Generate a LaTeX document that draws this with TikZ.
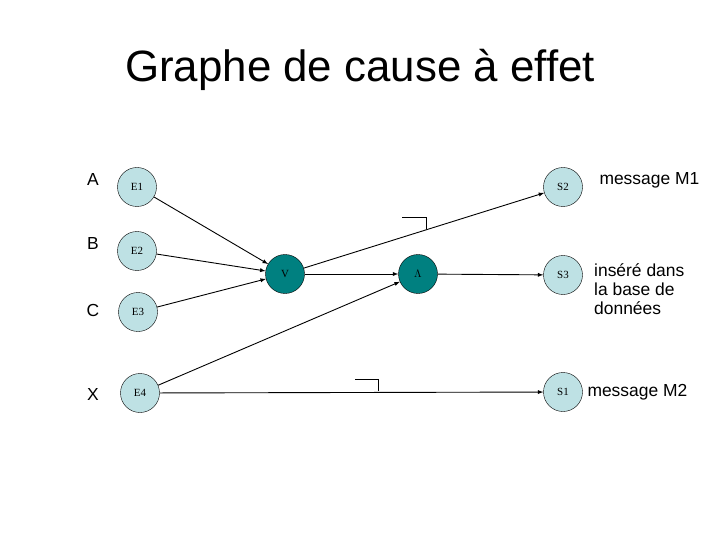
\documentclass[tikz,border=0pt]{standalone}
\usepackage{fontspec}
\setmainfont{Liberation Sans}
\newfontfamily\serifnode{Liberation Serif}
\definecolor{lightnode}{RGB}{190,225,228}
\definecolor{darknode}{RGB}{0,128,128}
\begin{document}
\begin{tikzpicture}[x=1bp,y=-1bp,
  lnode/.style={circle,draw=black,fill=lightnode,minimum size=39bp,inner sep=0pt,font=\serifnode\fontsize{11}{12}\selectfont},
  dnode/.style={circle,draw=black,fill=darknode,minimum size=39bp,inner sep=0pt,font=\serifnode\fontsize{11}{12}\selectfont},
  lab/.style={font=\fontsize{17.5}{19}\selectfont},
  conn/.style={->,>=latex,line width=0.9pt},
  notsym/.style={line width=0.8pt}]
\useasboundingbox (0,0) rectangle (720,540);
\node (title) at (360,70) {\fontsize{44}{50}\selectfont Graphe de cause à effet};
\node[lab] (la) at (93,180) {A};
\node[lab] (lb) at (93,244) {B};
\node[lab] (lc) at (93,310) {C};
\node[lab] (lx) at (93,395) {X};
\node[lnode] (e1) at (137,187) {E1};
\node[lnode] (e2) at (137,251) {E2};
\node[lnode] (e3) at (138,312) {E3};
\node[lnode] (e4) at (140,393) {E4};
\node[dnode] (v) at (285,274) {V};
\node[dnode] (a) at (418,274) {$\Lambda$};
\node[lnode] (s2) at (563,187) {S2};
\node[lnode] (s3) at (563,275) {S3};
\node[lnode] (s1) at (563,392) {S1};
\node[lab,anchor=west] (m1) at (596,180) {message M1};
\node[lab,anchor=west,align=left,inner sep=0pt] (ins) at (594,289) {inséré dans\\la base de\\données};
\node[lab,anchor=west] (m2) at (584,392) {message M2};
\draw[conn] (e1) -- (v);
\draw[conn] (e2) -- (v);
\draw[conn] (e3) -- (v);
\draw[conn] (v) -- (s2);
\draw[conn] (v) -- (a);
\draw[conn] (a) -- (s3);
\draw[conn] (e4) -- (a);
\draw[conn] (e4) -- (s1);
\coordinate (n1a) at (402,217); \coordinate (n1b) at (426,217); \coordinate (n1c) at (426,229);
\draw[notsym] (n1a) -- (n1b) -- (n1c);
\coordinate (n2a) at (355,379); \coordinate (n2b) at (378,379); \coordinate (n2c) at (378,391);
\draw[notsym] (n2a) -- (n2b) -- (n2c);
\end{tikzpicture}
\end{document}
